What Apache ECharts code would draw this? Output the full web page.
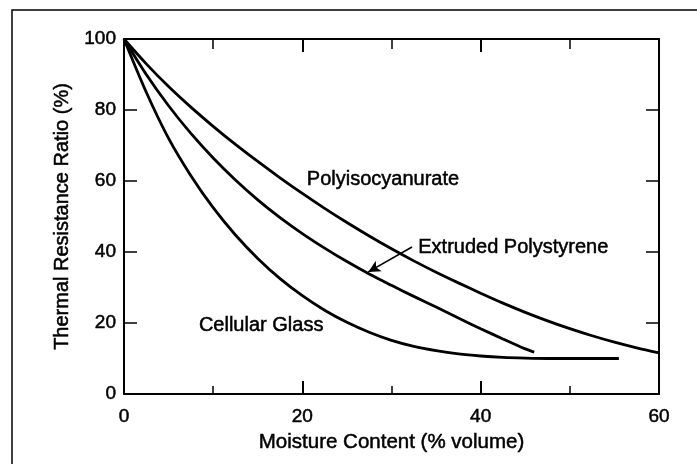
<!DOCTYPE html>
<html>
<head>
<meta charset="utf-8">
<script src="https://cdn.jsdelivr.net/npm/echarts@6/dist/echarts.min.js"></script>
<style>html,body{margin:0;padding:0;background:#fff}#c{width:697px;height:464px}</style>
</head>
<body>
<div id="c"></div>
<script>
// Data
var polyX = [0, 2.5, 5, 7.5, 10, 12.5, 15, 17.5, 20, 22.5, 25, 27.5, 30, 32.5, 35, 37.5, 40, 42.5, 45, 47.5, 50, 52.5, 55, 57.5, 60];
var polyY = [100, 93, 86.6, 80.8, 75.4, 70.3, 65.5, 60.9, 56.5, 52.3, 48.3, 44.5, 40.9, 37.5, 34.3, 31.3, 28.4, 25.6, 23, 20.6, 18.4, 16.4, 14.6, 13, 11.6];
var extX = [0, 2.5, 5, 7.5, 10, 12.5, 15, 17.5, 20, 22.5, 25, 27.5, 30, 32.5, 35, 37.5, 40, 42.5, 45, 46];
var extY = [100, 90, 81.2, 73.4, 66.5, 60.3, 54.7, 49.7, 45.2, 41.1, 37.3, 33.8, 30.6, 27.5, 24.5, 21.4, 18.4, 15.5, 12.7, 11.8];
var glassX = [0, 2.5, 5, 7.5, 10, 12.5, 15, 17.5, 20, 22.5, 25, 27.5, 30, 32.5, 35, 37.5, 40, 42.5, 45, 47.5, 50, 52.5, 55.5];
var glassY = [100, 85, 72, 61.5, 52.5, 44.8, 38.2, 32.5, 27.7, 23.6, 20.2, 17.4, 15.1, 13.4, 12.2, 11.3, 10.7, 10.3, 10.1, 10, 10, 10, 10];
var xTicks = [0, 20, 40, 60];
var yTicks = [0, 20, 40, 60, 80, 100];
var xTitle = 'Moisture Content (% volume)';
var yTitle = 'Thermal Resistance Ratio (%)';
var labels = [
  {text: 'Polyisocyanurate', x: 20.5, y: 60.3},
  {text: 'Extruded Polystyrene', x: 33.0, y: 41.4},
  {text: 'Cellular Glass', x: 8.4, y: 19.2}
];
var arrowFrom = [32.3, 41.4];
var arrowTo = [27.4, 34.4];

function pairs(xs, ys) { return xs.map(function (x, i) { return [x, ys[i]]; }); }

var FONT = 'Liberation Sans';
var chart = echarts.init(document.getElementById('c'), null, {renderer: 'canvas'});
var axisLine = {show: true, onZero: false, lineStyle: {color: '#000', width: 2}};
var lineStyle = {color: '#000', width: 2.8};
var txt = {color: '#000', fontFamily: FONT, textBorderColor: '#000', textBorderWidth: 0.5};

var option = {
  backgroundColor: '#fff',
  animation: false,
  grid: {left: 124, right: 38, top: 39, bottom: 70, containLabel: false},
  xAxis: [{
    type: 'value', min: 0, max: 60, interval: 20, position: 'bottom',
    axisLine: axisLine,
    axisTick: {show: true, inside: true, length: 13, lineStyle: {color: '#000', width: 2}},
    minorTick: {show: true, splitNumber: 2, length: 8, lineStyle: {color: '#000', width: 1.5}},
    axisLabel: Object.assign({fontSize: 19, margin: 13, customValues: xTicks}, txt),
    splitLine: {show: false},
    name: xTitle, nameLocation: 'middle', nameGap: 31,
    nameTextStyle: Object.assign({fontSize: 20.5}, txt)
  }, {
    type: 'value', min: 0, max: 60, interval: 20, position: 'top',
    axisLine: axisLine,
    axisTick: {show: true, inside: true, length: 13, lineStyle: {color: '#000', width: 2}},
    minorTick: {show: true, splitNumber: 2, length: 10, lineStyle: {color: '#000', width: 1.5}},
    axisLabel: {show: false}, splitLine: {show: false}
  }],
  yAxis: [{
    type: 'value', min: 0, max: 100, interval: 20, position: 'left',
    axisLine: axisLine,
    axisTick: {show: true, inside: true, length: 13, lineStyle: {color: '#000', width: 1.5}},
    axisLabel: Object.assign({fontSize: 19, margin: 8, customValues: yTicks}, txt),
    splitLine: {show: false},
    name: yTitle, nameLocation: 'middle', nameGap: 47, nameRotate: 90,
    nameTextStyle: Object.assign({fontSize: 20}, txt)
  }, {
    type: 'value', min: 0, max: 100, interval: 20, position: 'right',
    axisLine: axisLine,
    axisTick: {show: true, inside: true, length: 13, lineStyle: {color: '#000', width: 1.5}},
    axisLabel: {show: false}, splitLine: {show: false}
  }],
  series: [{
    type: 'line', name: 'Polyisocyanurate', data: pairs(polyX, polyY),
    smooth: 0.3, symbol: 'none', lineStyle: lineStyle, silent: true
  }, {
    type: 'line', name: 'Extruded Polystyrene', data: pairs(extX, extY),
    smooth: 0.3, symbol: 'none', lineStyle: lineStyle, silent: true,
    markLine: {
      silent: true, symbol: ['none', 'arrow'], symbolSize: [9, 12],
      label: {show: false},
      lineStyle: {color: '#000', width: 1.6, type: 'solid'},
      data: [[{coord: arrowFrom}, {coord: arrowTo}]]
    }
  }, {
    type: 'line', name: 'Cellular Glass', data: pairs(glassX, glassY),
    smooth: 0.3, symbol: 'none', lineStyle: lineStyle, silent: true
  }]
};
chart.setOption(option);

var g = [{
  type: 'rect', shape: {x: 12, y: 10, width: 720, height: 500},
  style: {fill: 'none', stroke: '#000', lineWidth: 1.5}, silent: true
}];
labels.forEach(function (l) {
  var p = chart.convertToPixel({xAxisIndex: 0, yAxisIndex: 0}, [l.x, l.y]);
  g.push({
    type: 'text', x: p[0], y: p[1], silent: true,
    style: {text: l.text, fill: '#000', stroke: '#000', lineWidth: 0.5, font: '20px "' + FONT + '"', textAlign: 'left', textVerticalAlign: 'middle'}
  });
});
chart.setOption({graphic: g});
</script>
</body>
</html>
